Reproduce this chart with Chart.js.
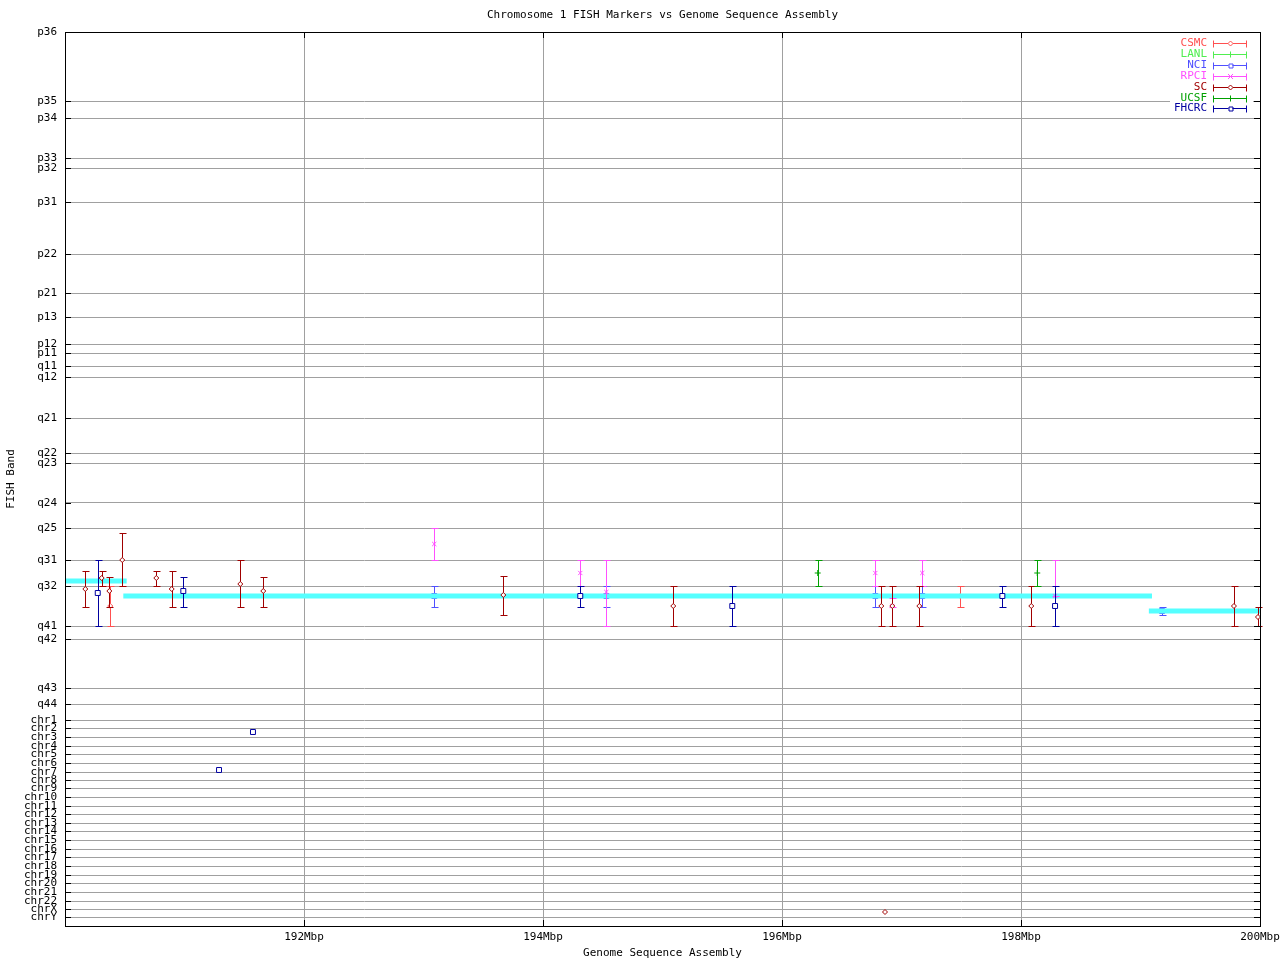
<!DOCTYPE html>
<html>
<head>
<meta charset="utf-8">
<script src="https://cdn.jsdelivr.net/npm/chart.js@4.4.1/dist/chart.umd.min.js"></script>
<style>
  html, body { margin: 0; padding: 0; background: #fff; }
  #wrap { width: 1280px; height: 960px; }
</style>
</head>
<body>
<div id="wrap"><canvas id="fish" width="1280" height="960"></canvas></div>
<script>
// FISH band labels and their position on the band axis (0 = p36 end)
const bandNames = ['p36','p35','p34','p33','p32','p31','p22','p21','p13','p12','p11',
  'q11','q12','q21','q22','q23','q24','q25','q31','q32','q41','q42','q43','q44',
  'chr1','chr2','chr3','chr4','chr5','chr6','chr7','chr8','chr9','chr10','chr11','chr12',
  'chr13','chr14','chr15','chr16','chr17','chr18','chr19','chr20','chr21','chr22','chrX','chrY'];
const bandPos = [0,69,86,126,136,170,222,261,285,312,321,
  334,345,386,421,431,471,496,528,554,594,607,656,672,
  688,696,705,714,722,731,740,748,756,765,774,782,
  791,799,808,817,825,834,843,851,860,869,877,885];
const bandMax = 894;

// x axis (Mbp)
const xMin = 190, xMax = 200, xStep = 2;

// sequence assembly segments
const asmFrom = [190.0, 190.488, 199.07];
const asmTo   = [190.516, 199.096, 200.0];
const asmBand = [549, 564, 579];

// markers: [Mbp, band, low, high]
const csmc = [[190.379,574,554,594],[197.492,564,554,575]];
const lanl = [];
const nci = [[193.090,564,554,575],[194.530,564,554,575],[196.781,564,554,575],
  [197.174,564,554,575],[199.180,579,575,583]];
const rpci = [[193.090,512,496,528],[194.312,541,528,554],[194.530,560,528,594],
  [196.781,541,528,554],[196.923,574,566,575],[197.174,541,528,554],[198.285,564,528,564]];
const sc = [[190.170,557,539,575],[190.307,546,539,554],[190.371,559,545,575],
  [190.479,528,501,554],[190.764,546,539,554],[190.893,557,539,575],[191.467,552,528,575],
  [191.659,559,545,575],[193.668,563,544,583],[195.090,574,554,594],[196.831,574,554,594],
  [196.923,574,554,594],[197.149,574,554,594],[198.086,574,554,594],[199.782,574,554,594],
  [199.983,585,575,594],[196.862,880,880,880]];
const ucsf = [[196.299,541,528,554],[198.136,541,528,554]];
const fhcrc = [[190.274,561,528,594],[190.990,559,545,575],[194.312,564,554,575],
  [195.584,574,554,594],[197.844,564,554,575],[198.285,574,554,594],
  [191.289,738,738,738],[191.573,700,700,700]];

const seriesNames = ['CSMC','LANL','NCI','RPCI','SC','UCSF','FHCRC'];
const seriesData = [csmc, lanl, nci, rpci, sc, ucsf, fhcrc];
const seriesColors = ['#ff5050','#50ee50','#5050ff','#ff50ff','#a00000','#00a000','#0000a0'];
const seriesMarks = ['rectRot','cross','rect','crossRot','rectRot','cross','rect'];
const seriesRadius = [2.5, 3, 3.5, 3, 2.5, 3, 3.5];
const seriesOrder = [7, 6, 5, 3, 2, 1, 0]; // later gnuplot series sit on top

const FONT = '11px "DejaVu Sans Mono", monospace';

const datasets = seriesNames.map((name, i) => ({
  label: name,
  bars: true,
  data: seriesData[i].map(d => ({ x: d[0], y: d[1], lo: d[2], hi: d[3] })),
  borderColor: seriesColors[i],
  pointBorderColor: seriesColors[i],
  pointBackgroundColor: '#fff',
  pointStyle: seriesMarks[i],
  pointRadius: seriesRadius[i],
  pointBorderWidth: 1,
  showLine: false,
  order: seriesOrder[i]
}));

const asmData = [];
asmFrom.forEach((f, i) => {
  asmData.push({ x: f, y: asmBand[i] }, { x: asmTo[i], y: asmBand[i] }, { x: asmTo[i], y: null });
});
datasets.push({
  label: 'assembly',
  data: asmData,
  showLine: true,
  spanGaps: false,
  borderColor: '#55ffff',
  borderWidth: 5,
  borderCapStyle: 'butt',
  pointRadius: 0,
  order: 4
});

// vertical error bars, drawn just before each series' points
const errorBars = {
  id: 'errorBars',
  beforeDatasetDraw(chart, args) {
    const ds = chart.data.datasets[args.index];
    if (!ds.bars) return;
    const { ctx, scales: { x, y } } = chart;
    ctx.save();
    ctx.strokeStyle = ds.borderColor;
    ctx.lineWidth = 1;
    ctx.beginPath();
    ds.data.forEach(p => {
      if (p.lo === p.hi) return;
      const px = Math.round(x.getPixelForValue(p.x)) + 0.5;
      const y1 = Math.round(y.getPixelForValue(p.lo)) + 0.5;
      const y2 = Math.round(y.getPixelForValue(p.hi)) + 0.5;
      ctx.moveTo(px, y1); ctx.lineTo(px, y2);
      ctx.moveTo(px - 3, y1); ctx.lineTo(px + 4, y1);
      ctx.moveTo(px - 3, y2); ctx.lineTo(px + 4, y2);
    });
    ctx.stroke();
    ctx.restore();
  }
};

function legendMark(ctx, style, cx, cy, r) {
  ctx.beginPath();
  if (style === 'rect') {
    const s = Math.round(r * Math.SQRT1_2);
    ctx.fillStyle = '#fff';
    ctx.fillRect(cx - s, cy - s, 2 * s, 2 * s);
    ctx.rect(cx - s + 0.5, cy - s + 0.5, 2 * s, 2 * s);
  } else if (style === 'rectRot') {
    ctx.moveTo(cx, cy - r); ctx.lineTo(cx + r, cy); ctx.lineTo(cx, cy + r); ctx.lineTo(cx - r, cy); ctx.closePath();
    ctx.fillStyle = '#fff'; ctx.fill();
  } else if (style === 'crossRot') {
    ctx.moveTo(cx - 2.5, cy - 2.5); ctx.lineTo(cx + 2.5, cy + 2.5);
    ctx.moveTo(cx + 2.5, cy - 2.5); ctx.lineTo(cx - 2.5, cy + 2.5);
  } else {
    ctx.moveTo(cx, cy - 3); ctx.lineTo(cx, cy + 3);
  }
  ctx.stroke();
}

// frame, inner ticks, titles and legend
const frame = {
  id: 'frame',
  afterDraw(chart) {
    const { ctx, chartArea: a, scales: { x, y } } = chart;
    ctx.save();
    ctx.strokeStyle = '#000';
    ctx.lineWidth = 1;
    ctx.beginPath();
    bandPos.forEach(v => {
      const py = Math.round(y.getPixelForValue(v)) + 0.5;
      ctx.moveTo(a.left, py); ctx.lineTo(a.left + 6, py);
      ctx.moveTo(a.right - 6, py); ctx.lineTo(a.right, py);
    });
    for (let v = xMin + xStep; v < xMax; v += xStep) {
      const px = Math.round(x.getPixelForValue(v)) + 0.5;
      ctx.moveTo(px, a.bottom); ctx.lineTo(px, a.bottom - 6);
      ctx.moveTo(px, a.top); ctx.lineTo(px, a.top + 6);
    }
    ctx.stroke();
    ctx.strokeRect(Math.round(a.left) + 0.5, Math.round(a.top) + 0.5,
      Math.round(a.right - a.left), Math.round(a.bottom - a.top));

    ctx.font = FONT;
    ctx.fillStyle = '#000';
    ctx.textAlign = 'center';
    ctx.textBaseline = 'middle';
    ctx.fillText('Chromosome 1 FISH Markers vs Genome Sequence Assembly', (a.left + a.right) / 2, 15);
    ctx.fillText('Genome Sequence Assembly', (a.left + a.right) / 2, 953);
    ctx.save();
    ctx.translate(11, 479);
    ctx.rotate(-Math.PI / 2);
    ctx.fillText('FISH Band', 0, 0);
    ctx.restore();

    // legend
    ctx.fillStyle = '#fff';
    ctx.fillRect(1170, 37, 83, 77);
    ctx.textAlign = 'right';
    seriesNames.forEach((name, i) => {
      const ly = Math.round(43 + i * 10.9) + 0.5;
      ctx.fillStyle = seriesColors[i];
      ctx.strokeStyle = seriesColors[i];
      ctx.fillText(name, 1207, ly);
      ctx.beginPath();
      ctx.moveTo(1213, ly); ctx.lineTo(1247, ly);
      ctx.moveTo(1213.5, ly - 3); ctx.lineTo(1213.5, ly + 4);
      ctx.moveTo(1246.5, ly - 3); ctx.lineTo(1246.5, ly + 4);
      ctx.stroke();
      legendMark(ctx, seriesMarks[i], 1230.5, ly, seriesRadius[i]);
    });
    ctx.restore();
  }
};

new Chart(document.getElementById('fish'), {
  type: 'scatter',
  data: { datasets },
  options: {
    responsive: false,
    animation: false,
    devicePixelRatio: 1,
    layout: { padding: { left: 0, top: 32, right: 20, bottom: 0 } },
    plugins: { legend: { display: false }, tooltip: { enabled: false } },
    scales: {
      x: {
        type: 'linear', min: xMin, max: xMax,
        afterFit(s) { s.height = 34; s.paddingLeft = 0; s.paddingRight = 0; },
        afterBuildTicks(s) {
          const t = [];
          for (let v = xMin; v <= xMax; v += xStep) t.push({ value: v });
          s.ticks = t;
        },
        ticks: {
          font: { family: '"DejaVu Sans Mono", monospace', size: 11 }, color: '#000',
          padding: 5, maxRotation: 0,
          callback: v => v === xMin ? '' : v + 'Mbp'
        },
        grid: { color: '#a0a0a0', drawTicks: false },
        border: { color: '#000' }
      },
      y: {
        type: 'linear', min: 0, max: bandMax, reverse: true,
        afterFit(s) { s.width = 65; s.paddingTop = 0; s.paddingBottom = 0; },
        afterBuildTicks(s) { s.ticks = bandPos.map(v => ({ value: v })); },
        ticks: {
          font: { family: '"DejaVu Sans Mono", monospace', size: 11 }, color: '#000',
          padding: 8, autoSkip: false,
          callback: v => { const i = bandPos.indexOf(v); return i < 0 ? '' : bandNames[i]; }
        },
        grid: { color: '#a0a0a0', drawTicks: false },
        border: { color: '#000' }
      }
    }
  },
  plugins: [errorBars, frame]
});
</script>
</body>
</html>
